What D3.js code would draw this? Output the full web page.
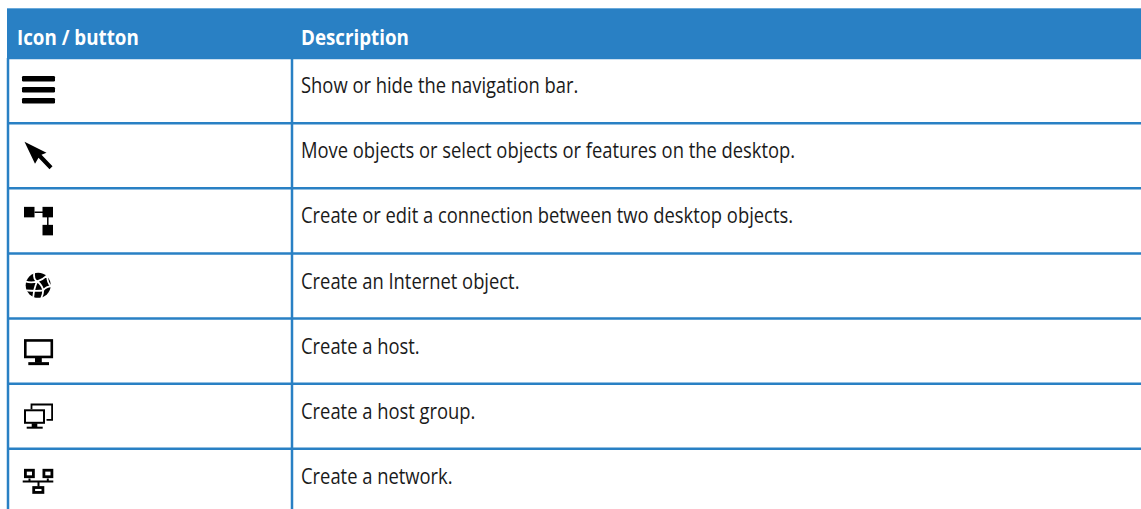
<!DOCTYPE html>
<html>
<head>
<meta charset="utf-8">
<script src="https://cdn.jsdelivr.net/npm/d3@7"></script>
<style>
  html, body { margin: 0; padding: 0; background: #fff; overflow: hidden; }
  text { font-family: "Open Sans", sans-serif; }
</style>
</head>
<body>
<script>
const svgWidth = 1141;
const svgHeight = 509;

const columns = ["Icon / button", "Description"];
const icons = ["menu", "arrow", "connect", "globe", "host", "group", "network"];
const descriptions = [
  "Show or hide the navigation bar.",
  "Move objects or select objects or features on the desktop.",
  "Create or edit a connection between two desktop objects.",
  "Create an Internet object.",
  "Create a host.",
  "Create a host group.",
  "Create a network."
];

const blue = "#2980c4";
const lightBlue = "#6aa9da";
const left = 8, mid = 292, headTop = 9, headBottom = 58;

const svg = d3.select("body").append("svg")
  .attr("width", svgWidth)
  .attr("height", svgHeight)
  .style("display", "block");

// rows run past the bottom of the window, the last one is cut off
const y = d3.scaleBand().domain(icons).range([headBottom, 514]);

// header band
svg.append("rect")
  .attr("x", left - 1).attr("y", headTop - 1)
  .attr("width", svgWidth - left + 1).attr("height", headBottom - headTop + 1)
  .attr("fill", blue);
svg.append("line")
  .attr("x1", left - 1).attr("x2", svgWidth)
  .attr("y1", headTop - 0.5).attr("y2", headTop - 0.5)
  .attr("stroke", lightBlue);

// header text
svg.selectAll("text.head")
  .data(columns)
  .enter()
  .append("text")
  .attr("class", "head")
  .attr("transform", (d, i) => `translate(${i ? 301 : 17},45) scale(0.854,1)`)
  .attr("font-size", 22)
  .attr("font-weight", 700)
  .attr("fill", "#fff")
  .text(d => d);

// description text
svg.selectAll("text.desc")
  .data(descriptions)
  .enter()
  .append("text")
  .attr("class", "desc")
  .attr("transform", (d, i) => `translate(301,${y(icons[i]) + y.bandwidth() / 2 + 2.6}) scale(0.875,1)`)
  .attr("font-size", 21)
  .attr("fill", "#1a1a1a")
  .text(d => d);

// grid lines
svg.selectAll("line.row")
  .data(icons)
  .enter()
  .append("line")
  .attr("class", "row")
  .attr("x1", left - 1).attr("x2", svgWidth)
  .attr("y1", d => y(d)).attr("y2", d => y(d))
  .attr("stroke", blue)
  .attr("stroke-width", 2.5);

svg.selectAll("line.col")
  .data([left, mid])
  .enter()
  .append("line")
  .attr("class", "col")
  .attr("x1", d => d).attr("x2", d => d)
  .attr("y1", headBottom).attr("y2", svgHeight)
  .attr("stroke", blue)
  .attr("stroke-width", 2.5);

// icon drawings, local coordinates around the cell centre
const draw = {
  menu(g) {
    [-14.6, -3.6, 7.4].forEach(t => g.append("rect")
      .attr("x", -16.5).attr("y", t).attr("width", 33).attr("height", 5.5).attr("rx", 1.2));
  },
  arrow(g) {
    g.append("path").attr("d", "M-14,-14 L8,-3 L3,-1 L14,10.5 L11,13.5 L0,2 L-3.5,8 Z");
  },
  connect(g) {
    g.append("rect").attr("x", -14.5).attr("y", -14).attr("width", 10.5).attr("height", 10.5);
    g.append("rect").attr("x", 4).attr("y", -14).attr("width", 10.5).attr("height", 10.5);
    g.append("rect").attr("x", 4).attr("y", 4).attr("width", 10.5).attr("height", 10.5);
    g.append("path").attr("d", "M-4,-8.7H5M9.3,-4V5").attr("fill", "none").attr("stroke", "#000").attr("stroke-width", 1.5);
  },
  globe(g) {
    g.attr("transform", g.attr("transform") + " translate(-0.3,-0.7)");
    g.append("circle").attr("r", 12.5);
    g.append("path")
      .attr("d", "M-4,-13 Q-5,-6 -1,-4 Q-7,-2 -13,-4 M-1,-4 Q-4,2 -5,12 M-1,-4 Q5,-6 9,-10 M-1,-4 Q4,0 5,5 M5,5 Q8,1 13,1 M5,5 Q-1,6 -12,5 M5,5 Q5,9 3,13 M9,-10 Q9,-2 13,1")
      .attr("fill", "none").attr("stroke", "#fff").attr("stroke-width", 1.8);
  },
  host(g) {
    g.append("rect").attr("x", -13.2).attr("y", -10.7).attr("width", 26.5).attr("height", 16.5)
      .attr("fill", "none").attr("stroke", "#000").attr("stroke-width", 2.6);
    g.append("rect").attr("x", -3.5).attr("y", 6.5).attr("width", 6.8).attr("height", 5);
    g.append("rect").attr("x", -10.2).attr("y", 11).attr("width", 20.7).attr("height", 3);
  },
  group(g) {
    g.append("path").attr("d", "M-7,-7V-11.8H13.6V3.5H8").attr("fill", "none").attr("stroke", "#000").attr("stroke-width", 1.8);
    g.append("rect").attr("x", -13.5).attr("y", -6).attr("width", 19).attr("height", 12.5)
      .attr("fill", "#fff").attr("stroke", "#000").attr("stroke-width", 2);
    g.append("rect").attr("x", -6.8).attr("y", 7).attr("width", 5.6).attr("height", 4);
    g.append("rect").attr("x", -11.8).attr("y", 10.4).attr("width", 16).attr("height", 2);
  },
  network(g) {
    [[-13.1, -11.2, 8, 6.5], [5.4, -11.2, 8, 6.5], [-4.8, 6.1, 9.2, 4.9]].forEach(p => g.append("rect")
      .attr("x", p[0]).attr("y", p[1]).attr("width", p[2]).attr("height", p[3])
      .attr("fill", "#fff").attr("stroke", "#000").attr("stroke-width", 2.8));
    g.append("path").attr("d", "M-15.8,0H14.8M-9,-3V0M9.3,-3V0M0,0V5")
      .attr("fill", "none").attr("stroke", "#000").attr("stroke-width", 2);
  }
};

svg.selectAll("g.icon")
  .data(icons)
  .enter()
  .append("g")
  .attr("class", "icon")
  .attr("transform", d => `translate(38.5,${y(d) + y.bandwidth() / 2})`)
  .attr("fill", "#000")
  .each(function (d) { draw[d](d3.select(this)); });
</script>
</body>
</html>
